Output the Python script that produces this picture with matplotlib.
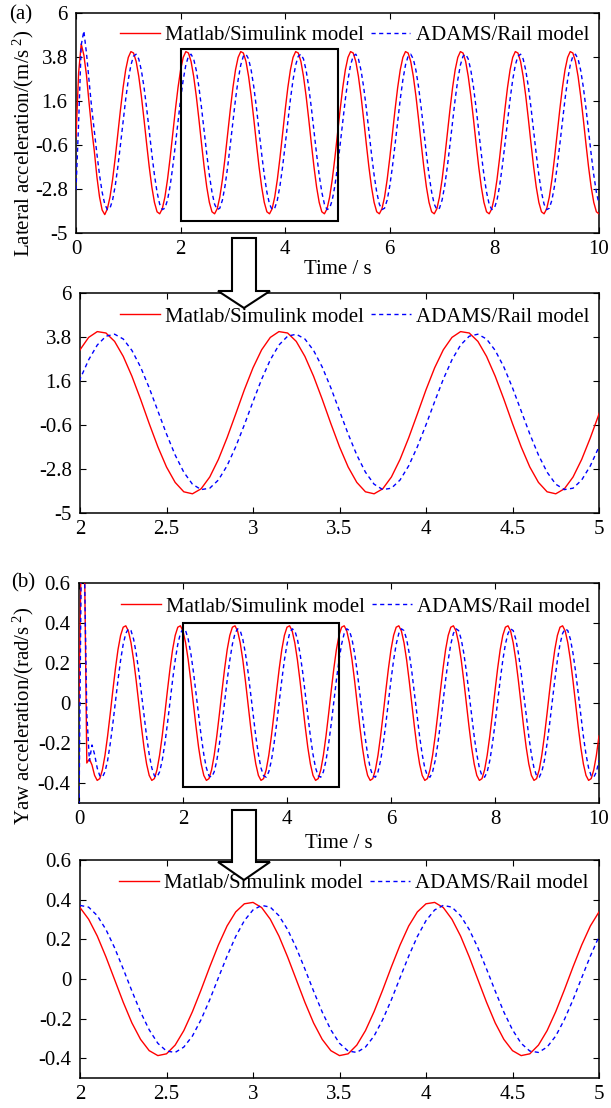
import numpy as np
import matplotlib
matplotlib.use("Agg")
import matplotlib.pyplot as plt
from matplotlib.patches import Polygon, Rectangle

plt.rcParams['font.family'] = ['Liberation Serif', 'DejaVu Serif']
plt.rcParams['mathtext.fontset'] = 'custom'
plt.rcParams['mathtext.rm'] = 'Liberation Serif'
plt.rcParams['mathtext.it'] = 'Liberation Serif:italic'

# ---------------- data (sampled every 0.05 s, 0 .. 10 s) ----------------
time = np.round(np.arange(201) * 0.05, 2)

lat_matlab = [
    -0.20, 3.00, 4.45, 3.90, 2.90, 1.50, 0.20, -0.90, -2.20, -3.20, -3.85, -4.08, -3.79, -3.20, -2.32, -1.24, -0.05, 1.16, 2.26, 3.16, 3.78,
    4.07, 4.00, 3.58, 2.83, 1.84, 0.69, -0.53, -1.69, -2.70, -3.47, -3.94, -4.04, -3.79, -3.20, -2.32, -1.24, -0.05, 1.16, 2.26, 3.16, 3.78,
    4.07, 4.00, 3.58, 2.83, 1.84, 0.69, -0.53, -1.69, -2.70, -3.47, -3.94, -4.04, -3.79, -3.20, -2.32, -1.24, -0.05, 1.16, 2.26, 3.16, 3.78,
    4.07, 4.00, 3.58, 2.83, 1.84, 0.69, -0.53, -1.69, -2.70, -3.47, -3.94, -4.04, -3.79, -3.20, -2.32, -1.24, -0.05, 1.16, 2.26, 3.16, 3.78,
    4.07, 4.00, 3.58, 2.83, 1.84, 0.69, -0.53, -1.69, -2.70, -3.47, -3.94, -4.04, -3.79, -3.20, -2.32, -1.24, -0.05, 1.16, 2.26, 3.16, 3.78,
    4.07, 4.00, 3.58, 2.83, 1.84, 0.69, -0.53, -1.69, -2.70, -3.47, -3.94, -4.04, -3.79, -3.20, -2.32, -1.24, -0.05, 1.16, 2.26, 3.16, 3.78,
    4.07, 4.00, 3.58, 2.83, 1.84, 0.69, -0.53, -1.69, -2.70, -3.47, -3.94, -4.04, -3.79, -3.20, -2.32, -1.24, -0.05, 1.16, 2.26, 3.16, 3.78,
    4.07, 4.00, 3.58, 2.83, 1.84, 0.69, -0.53, -1.69, -2.70, -3.47, -3.94, -4.04, -3.79, -3.20, -2.32, -1.24, -0.05, 1.16, 2.26, 3.16, 3.78,
    4.07, 4.00, 3.58, 2.83, 1.84, 0.69, -0.53, -1.69, -2.70, -3.47, -3.94, -4.04, -3.79, -3.20, -2.32, -1.24, -0.05, 1.16, 2.26, 3.16, 3.78,
    4.07, 4.00, 3.58, 2.83, 1.84, 0.69, -0.53, -1.69, -2.70, -3.47, -3.94, -4.04,
]

lat_adams = [
    -2.85, 0.50, 4.40, 5.10, 4.00, 2.60, 1.26, 0.11, -1.05, -2.10, -2.96, -3.56, -3.83, -3.76, -3.35, -2.64, -1.69, -0.59, 0.57, 1.69, 2.66,
    3.40, 3.84, 3.94, 3.70, 3.13, 2.30, 1.26, 0.11, -1.05, -2.10, -2.96, -3.56, -3.83, -3.76, -3.35, -2.64, -1.69, -0.59, 0.57, 1.69, 2.66,
    3.40, 3.84, 3.94, 3.70, 3.13, 2.30, 1.26, 0.11, -1.05, -2.10, -2.96, -3.56, -3.83, -3.76, -3.35, -2.64, -1.69, -0.59, 0.57, 1.69, 2.66,
    3.40, 3.84, 3.94, 3.70, 3.13, 2.30, 1.26, 0.11, -1.05, -2.10, -2.96, -3.56, -3.83, -3.76, -3.35, -2.64, -1.69, -0.59, 0.57, 1.69, 2.66,
    3.40, 3.84, 3.94, 3.70, 3.13, 2.30, 1.26, 0.11, -1.05, -2.10, -2.96, -3.56, -3.83, -3.76, -3.35, -2.64, -1.69, -0.59, 0.57, 1.69, 2.66,
    3.40, 3.84, 3.94, 3.70, 3.13, 2.30, 1.26, 0.11, -1.05, -2.10, -2.96, -3.56, -3.83, -3.76, -3.35, -2.64, -1.69, -0.59, 0.57, 1.69, 2.66,
    3.40, 3.84, 3.94, 3.70, 3.13, 2.30, 1.26, 0.11, -1.05, -2.10, -2.96, -3.56, -3.83, -3.76, -3.35, -2.64, -1.69, -0.59, 0.57, 1.69, 2.66,
    3.40, 3.84, 3.94, 3.70, 3.13, 2.30, 1.26, 0.11, -1.05, -2.10, -2.96, -3.56, -3.83, -3.76, -3.35, -2.64, -1.69, -0.59, 0.57, 1.69, 2.66,
    3.40, 3.84, 3.94, 3.70, 3.13, 2.30, 1.26, 0.11, -1.05, -2.10, -2.96, -3.56, -3.83, -3.76, -3.35, -2.64, -1.69, -0.59, 0.57, 1.69, 2.66,
    3.40, 3.84, 3.94, 3.70, 3.13, 2.30, 1.26, 0.11, -1.05, -2.10, -2.96, -3.56,
]

yaw_matlab = [
    0.000, 0.900, 0.850, -0.300, -0.280, -0.310, -0.362, -0.387, -0.378, -0.334, -0.261, -0.165, -0.055, 0.061, 0.171, 0.267, 0.338, 0.379, 0.386, 0.360, 0.301,
    0.216, 0.111, -0.003, -0.118, -0.222, -0.305, -0.362, -0.387, -0.378, -0.334, -0.261, -0.165, -0.055, 0.061, 0.171, 0.267, 0.338, 0.379, 0.386, 0.360, 0.301,
    0.216, 0.111, -0.003, -0.118, -0.222, -0.305, -0.362, -0.387, -0.378, -0.334, -0.261, -0.165, -0.055, 0.061, 0.171, 0.267, 0.338, 0.379, 0.386, 0.360, 0.301,
    0.216, 0.111, -0.003, -0.118, -0.222, -0.305, -0.362, -0.387, -0.378, -0.334, -0.261, -0.165, -0.055, 0.061, 0.171, 0.267, 0.338, 0.379, 0.386, 0.360, 0.301,
    0.216, 0.111, -0.003, -0.118, -0.222, -0.305, -0.362, -0.387, -0.378, -0.334, -0.261, -0.165, -0.055, 0.061, 0.171, 0.267, 0.338, 0.379, 0.386, 0.360, 0.301,
    0.216, 0.111, -0.003, -0.118, -0.222, -0.305, -0.362, -0.387, -0.378, -0.334, -0.261, -0.165, -0.055, 0.061, 0.171, 0.267, 0.338, 0.379, 0.386, 0.360, 0.301,
    0.216, 0.111, -0.003, -0.118, -0.222, -0.305, -0.362, -0.387, -0.378, -0.334, -0.261, -0.165, -0.055, 0.061, 0.171, 0.267, 0.338, 0.379, 0.386, 0.360, 0.301,
    0.216, 0.111, -0.003, -0.118, -0.222, -0.305, -0.362, -0.387, -0.378, -0.334, -0.261, -0.165, -0.055, 0.061, 0.171, 0.267, 0.338, 0.379, 0.386, 0.360, 0.301,
    0.216, 0.111, -0.003, -0.118, -0.222, -0.305, -0.362, -0.387, -0.378, -0.334, -0.261, -0.165, -0.055, 0.061, 0.171, 0.267, 0.338, 0.379, 0.386, 0.360, 0.301,
    0.216, 0.111, -0.003, -0.118, -0.222, -0.305, -0.362, -0.387, -0.378, -0.334, -0.261, -0.165,
]

yaw_adams = [
    -0.550, 0.900, 0.750, -0.050, -0.290, -0.210, -0.257, -0.325, -0.364, -0.371, -0.344, -0.288, -0.205, -0.105, 0.006, 0.115, 0.214, 0.294, 0.348, 0.371, 0.362,
    0.319, 0.249, 0.157, 0.050, -0.061, -0.167, -0.257, -0.325, -0.364, -0.371, -0.344, -0.288, -0.205, -0.105, 0.006, 0.115, 0.214, 0.294, 0.348, 0.371, 0.362,
    0.319, 0.249, 0.157, 0.050, -0.061, -0.167, -0.257, -0.325, -0.364, -0.371, -0.344, -0.288, -0.205, -0.105, 0.006, 0.115, 0.214, 0.294, 0.348, 0.371, 0.362,
    0.319, 0.249, 0.157, 0.050, -0.061, -0.167, -0.257, -0.325, -0.364, -0.371, -0.344, -0.288, -0.205, -0.105, 0.006, 0.115, 0.214, 0.294, 0.348, 0.371, 0.362,
    0.319, 0.249, 0.157, 0.050, -0.061, -0.167, -0.257, -0.325, -0.364, -0.371, -0.344, -0.288, -0.205, -0.105, 0.006, 0.115, 0.214, 0.294, 0.348, 0.371, 0.362,
    0.319, 0.249, 0.157, 0.050, -0.061, -0.167, -0.257, -0.325, -0.364, -0.371, -0.344, -0.288, -0.205, -0.105, 0.006, 0.115, 0.214, 0.294, 0.348, 0.371, 0.362,
    0.319, 0.249, 0.157, 0.050, -0.061, -0.167, -0.257, -0.325, -0.364, -0.371, -0.344, -0.288, -0.205, -0.105, 0.006, 0.115, 0.214, 0.294, 0.348, 0.371, 0.362,
    0.319, 0.249, 0.157, 0.050, -0.061, -0.167, -0.257, -0.325, -0.364, -0.371, -0.344, -0.288, -0.205, -0.105, 0.006, 0.115, 0.214, 0.294, 0.348, 0.371, 0.362,
    0.319, 0.249, 0.157, 0.050, -0.061, -0.167, -0.257, -0.325, -0.364, -0.371, -0.344, -0.288, -0.205, -0.105, 0.006, 0.115, 0.214, 0.294, 0.348, 0.371, 0.362,
    0.319, 0.249, 0.157, 0.050, -0.061, -0.167, -0.257, -0.325, -0.364, -0.371, -0.344, -0.288,
]

series_labels = ['Matlab/Simulink model', 'ADAMS/Rail model']
full_xticks = [0, 2, 4, 6, 8, 10]
zoom_xticks = [2, 2.5, 3, 3.5, 4, 4.5, 5]
zoom_xticklabels = ['2', '2.5', '3', '3.5', '4', '4.5', '5']
lat_yticks = [6, 3.8, 1.6, -0.6, -2.8, -5]
lat_yticklabels = ['6', '3.8', '1.6', '-0.6', '-2.8', '-5']
yaw_yticks = [0.6, 0.4, 0.2, 0, -0.2, -0.4]
yaw_yticklabels = ['0.6', '0.4', '0.2', '0', '-0.2', '-0.4']
lat_ylabel = r'Lateral acceleration/(m/s$^{\ 2}$)'
yaw_ylabel = r'Yaw acceleration/(rad/s$^{\ 2}$)'

# ---------------- figure ----------------
W, H = 611, 1108
FS = 15
fig = plt.figure(figsize=(W / 100, H / 100), dpi=100)


def box(l, t, r, b):
    return [l / W, 1 - b / H, (r - l) / W, (b - t) / H]


def fxy(x, y):
    return (x / W, 1 - y / H)


ax1 = fig.add_axes(box(76, 13, 599, 233))
ax2 = fig.add_axes(box(80, 293, 599, 513))
ax3 = fig.add_axes(box(79, 583, 599, 803))
ax4 = fig.add_axes(box(80, 860, 599, 1078))

RED = '#ff0000'
BLUE = '#0000ff'


def draw(ax, y_red, y_blue):
    ax.plot(time, y_red, color=RED, lw=1.0, label=series_labels[0], zorder=3)
    ax.plot(time, y_blue, color=BLUE, lw=1.0, dashes=(3, 2.5), label=series_labels[1], zorder=3)


def style(ax, xlim, ylim, xticks, xticklabels, yticks, yticklabels, leg_xy):
    ax.set_xlim(*xlim)
    ax.set_ylim(*ylim)
    ax.set_xticks(xticks)
    ax.set_xticklabels(xticklabels)
    ax.set_yticks(yticks)
    ax.set_yticklabels(yticklabels)
    ax.tick_params(direction='in', top=True, right=True, length=4, width=0.8,
                   labelsize=FS, colors='black')
    ax.tick_params(axis='x', pad=5)
    ax.tick_params(axis='y', pad=6)
    for sp in ax.spines.values():
        sp.set_linewidth(1.1)
        sp.set_color('black')
    ax.legend(loc='center right', bbox_to_anchor=leg_xy, ncol=2, frameon=False,
              fontsize=FS, handlelength=1.9, handletextpad=0.25,
              columnspacing=0.35, borderpad=0, borderaxespad=0)


draw(ax1, lat_matlab, lat_adams)
draw(ax2, lat_matlab, lat_adams)
draw(ax3, yaw_matlab, yaw_adams)
draw(ax4, yaw_matlab, yaw_adams)

style(ax1, (0, 10), (-5, 6), full_xticks, [str(v) for v in full_xticks],
      lat_yticks, lat_yticklabels, (0.981, 0.90))
style(ax2, (2, 5), (-5, 6), zoom_xticks, zoom_xticklabels,
      lat_yticks, lat_yticklabels, (0.981, 0.891))
style(ax3, (0, 10), (-0.5, 0.6), full_xticks, [str(v) for v in full_xticks],
      yaw_yticks, yaw_yticklabels, (0.983, 0.891))
style(ax4, (2, 5), (-0.5, 0.6), zoom_xticks, zoom_xticklabels,
      yaw_yticks, yaw_yticklabels, (0.979, 0.894))

# zoom-window rectangles
ax1.add_patch(Rectangle((2, -4.4), 3, 8.6, fill=False, ec='black', lw=1.5, zorder=5))
ax3.add_patch(Rectangle((2, -0.42), 3, 0.82, fill=False, ec='black', lw=1.5, zorder=5))


# hollow down arrows
def arrow(y_top, y_base, y_tip):
    pts = [(232, y_top), (256, y_top), (256, y_base), (270, y_base),
           (244, y_tip), (218, y_base), (232, y_base)]
    poly = Polygon([fxy(x, y) for x, y in pts], closed=True, fc='white', ec='black',
                   lw=1.5, transform=fig.transFigure, zorder=10)
    fig.add_artist(poly)


arrow(238, 291, 308)
arrow(810, 862, 880)

# texts
fig.text(*fxy(21, 15), '(a)', ha='center', va='center', fontsize=FS)
fig.text(*fxy(23, 583), '(b)', ha='center', va='center', fontsize=FS)
fig.text(*fxy(23, 143), lat_ylabel, rotation=90, ha='center', va='center', fontsize=FS)
fig.text(*fxy(23, 716), yaw_ylabel, rotation=90, ha='center', va='center', fontsize=FS)
fig.text(*fxy(338, 270), 'Time / s', ha='center', va='center', fontsize=FS)
fig.text(*fxy(339, 843), 'Time / s', ha='center', va='center', fontsize=FS)

fig.savefig('out.png', dpi=100)
